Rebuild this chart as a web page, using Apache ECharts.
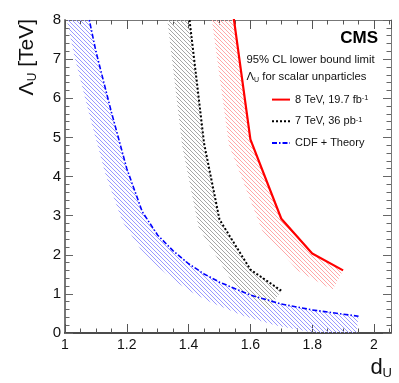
<!DOCTYPE html>
<html>
<head>
<meta charset="utf-8">
<script src="https://cdn.jsdelivr.net/npm/echarts@6/dist/echarts.min.js"></script>
<style>
html, body { margin: 0; padding: 0; background: #fff; }
#chart { width: 399px; height: 383px; }
</style>
</head>
<body>
<div id="chart"></div>
<script>
// 95% CL lower limits on Lambda_U vs d_U
const cms8X = [1.5, 1.6, 1.7, 1.8, 1.9]
const cms8Limit = [10.7, 4.95, 2.92, 2.03, 1.6]
const cms7X = [1.4, 1.45, 1.5, 1.6, 1.7]
const cms7Limit = [8.2, 4.85, 2.9, 1.62, 1.08]
const cdfX = [1.06, 1.1, 1.15, 1.2, 1.25, 1.3, 1.35, 1.4, 1.45, 1.5, 1.6, 1.7, 1.8, 1.9, 1.95]
const cdfLimit = [8.7, 7.2, 5.65, 4.2, 3.1, 2.5, 2.1, 1.77, 1.51, 1.3, 0.97, 0.74, 0.59, 0.48, 0.43]

const legendNames = ['8 TeV', '7 TeV', 'CDF + Theory']
const legendText = {
	'8 TeV': '{t|8 TeV, 19.7 fb}{sup|-1}',
	'7 TeV': '{t|7 TeV, 36 pb}{sup|-1}',
	'CDF + Theory': '{t|CDF + Theory}'
}

const FONT = "'Liberation Sans', Arial, Helvetica, sans-serif"

function hatch(color, size) {
	const c = document.createElement('canvas')
	c.width = size
	c.height = size
	const g = c.getContext('2d')
	g.strokeStyle = color
	g.lineWidth = 1
	g.beginPath()
	for (let k = -1; k <= 1; k++) {
		g.moveTo(k * size, 0)
		g.lineTo(k * size + size, size)
	}
	g.stroke()
	return c
}

function normal(p, q) {
	const dx = q[0] - p[0], dy = q[1] - p[1]
	const len = Math.hypot(dx, dy) || 1
	return [-dy / len, dx / len] // points to lower-left side
}

// hatched strip on the excluded side of a limit curve
function band(xs, ys, color, width) {
	const pattern = { image: hatch(color, 4), repeat: 'repeat' }
	return {
		type: 'custom',
		silent: true,
		z: 1,
		data: [[xs[0], ys[0]]],
		renderItem: function (params, api) {
			const pts = xs.map((x, i) => api.coord([x, ys[i]]))
			const n = pts.length
			const off = []
			for (let i = 0; i < n; i++) {
				const n1 = i > 0 ? normal(pts[i - 1], pts[i]) : normal(pts[i], pts[i + 1])
				const n2 = i < n - 1 ? normal(pts[i], pts[i + 1]) : n1
				let mx = n1[0] + n2[0], my = n1[1] + n2[1]
				const ml = Math.hypot(mx, my) || 1
				mx /= ml
				my /= ml
				const s = Math.min(width / Math.max(mx * n1[0] + my * n1[1], 0.3), width * 2)
				off.push([pts[i][0] + mx * s, pts[i][1] + my * s])
			}
			const cs = params.coordSys
			return {
				type: 'polygon',
				shape: { points: pts.concat(off.reverse()) },
				style: { fill: pattern, stroke: null },
				clipPath: { type: 'rect', shape: { x: cs.x, y: cs.y, width: cs.width, height: cs.height } }
			}
		}
	}
}

function zip(xs, ys) {
	return xs.map((x, i) => [x, ys[i]])
}

const chart = echarts.init(document.getElementById('chart'), null, { renderer: 'canvas' })

const xCommon = {
	type: 'value',
	min: 1,
	max: 2.055,
	interval: 0.2,
	splitLine: { show: false },
	axisTick: { inside: true, length: 9, lineStyle: { color: '#555' } },
	minorTick: { show: true, splitNumber: 4, length: 4.5, lineStyle: { color: '#555' } },
	minorSplitLine: { show: false }
}
const yCommon = {
	type: 'value',
	min: 0,
	max: 8,
	interval: 1,
	splitLine: { show: false },
	axisTick: { inside: true, length: 8, lineStyle: { color: '#666' } },
	minorTick: { show: true, splitNumber: 5, length: 4.5, lineStyle: { color: '#666' } },
	minorSplitLine: { show: false }
}

chart.setOption({
	animation: false,
	textStyle: { fontFamily: FONT },
	grid: { left: 65, right: 8, top: 20, bottom: 50 },
	xAxis: [
		Object.assign({}, xCommon, {
			position: 'bottom',
			axisLine: { onZero: false, lineStyle: { color: '#111', width: 1.5 } },
			axisLabel: { fontSize: 14, color: '#111', margin: 5, showMaxLabel: false, fontFamily: FONT }
		}),
		Object.assign({}, xCommon, {
			position: 'top',
			axisLine: { onZero: false, lineStyle: { color: '#777', width: 1 } },
			axisLabel: { show: false }
		})
	],
	yAxis: [
		Object.assign({}, yCommon, {
			position: 'left',
			axisLine: { show: true, onZero: false, lineStyle: { color: '#777', width: 2 } },
			axisLabel: { fontSize: 15, color: '#111', margin: 4, fontFamily: FONT }
		}),
		Object.assign({}, yCommon, {
			position: 'right',
			axisLine: { show: true, onZero: false, lineStyle: { color: '#777', width: 1 } },
			axisLabel: { show: false }
		})
	],
	legend: {
		data: legendNames,
		orient: 'vertical',
		left: 266,
		top: 89,
		itemWidth: 18,
		itemHeight: 14,
		itemGap: 10.5,
		selectedMode: false,
		itemStyle: { opacity: 0 },
		formatter: function (name) { return legendText[name] },
		textStyle: {
			color: '#111',
			fontFamily: FONT,
			rich: {
				t: { fontSize: 11, fontFamily: FONT, color: '#111' },
				sup: { fontSize: 7.5, fontFamily: FONT, color: '#111', verticalAlign: 'top', lineHeight: 9 }
			}
		}
	},
	graphic: [
		{
			type: 'text', x: 378, y: 38,
			style: { text: 'CMS', font: 'bold 17px ' + FONT, fill: '#000', align: 'right', verticalAlign: 'middle', textAlign: 'right', textVerticalAlign: 'middle' }
		},
		{
			type: 'text', x: 246.5, y: 60,
			style: { text: '95% CL lower bound limit', font: '11.3px ' + FONT, fill: '#111', align: 'left', verticalAlign: 'middle', textAlign: 'left', textVerticalAlign: 'middle' }
		},
		{
			type: 'text', x: 246.5, y: 77,
			style: {
				text: '{a|Λ}{s|U}{a| for scalar unparticles}',
				align: 'left', verticalAlign: 'middle', textAlign: 'left', textVerticalAlign: 'middle',
				rich: {
					a: { fontSize: 11.3, fontFamily: FONT, fill: '#111', lineHeight: 14 },
					s: { fontSize: 7, fontFamily: FONT, fill: '#111', verticalAlign: 'bottom', lineHeight: 8 }
				}
			}
		},
		{
			type: 'text', x: 27, y: 19, rotation: Math.PI / 2,
			style: {
				text: '{a|Λ}{s|U}{a| [TeV]}',
				align: 'right', verticalAlign: 'middle', textAlign: 'right', textVerticalAlign: 'middle',
				rich: {
					a: { fontSize: 21, fontFamily: FONT, fill: '#111', lineHeight: 24 },
					s: { fontSize: 12, fontFamily: FONT, fill: '#111', verticalAlign: 'bottom', lineHeight: 12 }
				}
			}
		},
		{
			type: 'text', x: 392, y: 368,
			style: {
				text: '{a|d}{s|U}',
				align: 'right', verticalAlign: 'middle', textAlign: 'right', textVerticalAlign: 'middle',
				rich: {
					a: { fontSize: 22, fontFamily: FONT, fill: '#111', lineHeight: 24 },
					s: { fontSize: 13, fontFamily: FONT, fill: '#111', verticalAlign: 'bottom', lineHeight: 12 }
				}
			}
		}
	],
	series: [
		band(cdfX, cdfLimit, '#9a9aff', 22),
		band(cms7X, cms7Limit, '#a6a6a6', 22),
		band(cms8X, cms8Limit, '#ffa8a8', 22),
		{
			name: 'CDF + Theory',
			type: 'line',
			z: 3,
			symbol: 'none',
			data: zip(cdfX, cdfLimit),
			lineStyle: { color: '#0000ff', width: 1.6, type: [5, 2, 1.5, 2] },
			itemStyle: { color: '#0000ff' }
		},
		{
			name: '7 TeV',
			type: 'line',
			z: 3,
			symbol: 'none',
			data: zip(cms7X, cms7Limit),
			lineStyle: { color: '#000', width: 2, type: [2, 2] },
			itemStyle: { color: '#000' }
		},
		{
			name: '8 TeV',
			type: 'line',
			z: 3,
			symbol: 'none',
			data: zip(cms8X, cms8Limit),
			lineStyle: { color: '#ff0000', width: 2.2 },
			itemStyle: { color: '#ff0000' }
		}
	]
})
</script>
</body>
</html>
